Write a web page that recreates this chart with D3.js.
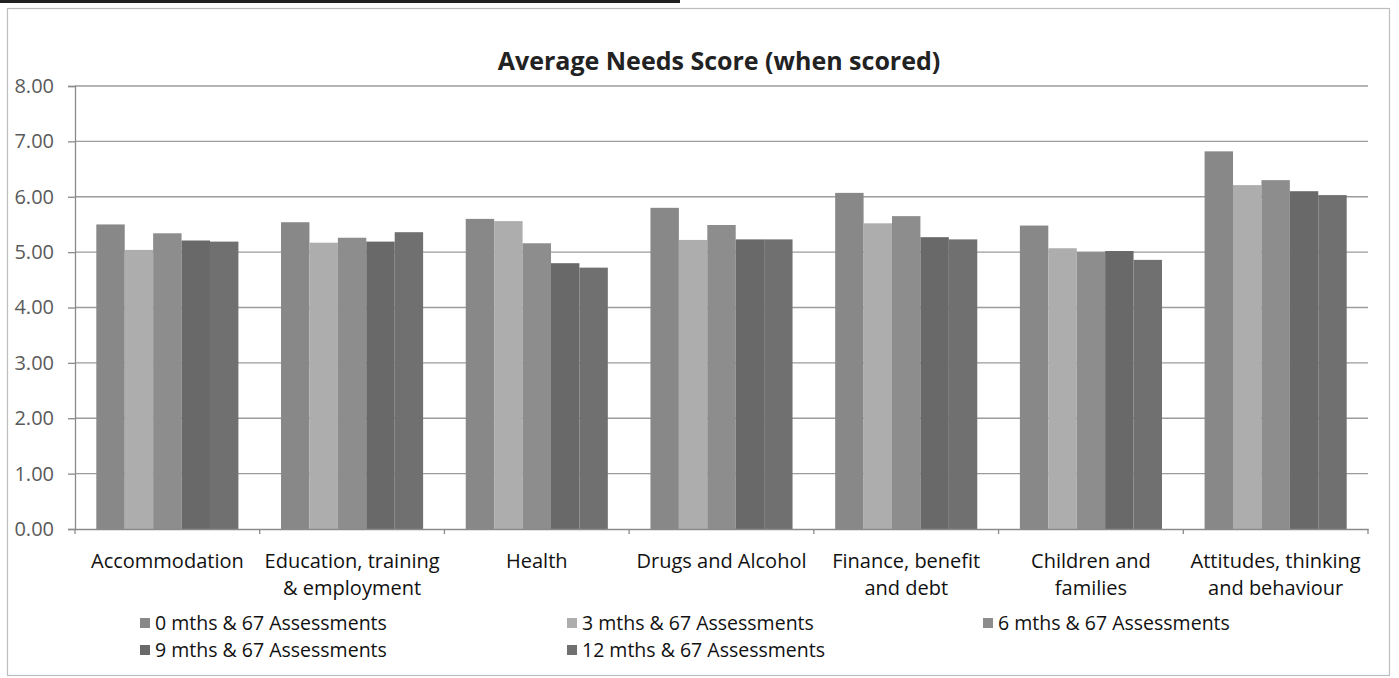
<!DOCTYPE html>
<html>
<head>
<meta charset="utf-8">
<script src="https://cdn.jsdelivr.net/npm/d3@7"></script>
<style>
  body { margin: 0; background: #fff; }
  svg { display: block; font-family: 'Open Sans', 'Noto Sans', sans-serif; }
</style>
</head>
<body>
<svg id="svg" width="1399" height="678"></svg>
<script>
const categories = [
  ['Accommodation'],
  ['Education, training', '& employment'],
  ['Health'],
  ['Drugs and Alcohol'],
  ['Finance, benefit', 'and debt'],
  ['Children and', 'families'],
  ['Attitudes, thinking', 'and behaviour'],
];
const seriesNames = [
  '0 mths & 67 Assessments',
  '3 mths & 67 Assessments',
  '6 mths & 67 Assessments',
  '9 mths & 67 Assessments',
  '12 mths & 67 Assessments',
];
const m0 = [5.50, 5.54, 5.60, 5.80, 6.07, 5.48, 6.82];
const m3 = [5.04, 5.17, 5.56, 5.22, 5.52, 5.07, 6.21];
const m6 = [5.34, 5.26, 5.16, 5.49, 5.65, 5.00, 6.30];
const m9 = [5.21, 5.19, 4.80, 5.23, 5.27, 5.02, 6.10];
const m12 = [5.19, 5.36, 4.72, 5.23, 5.23, 4.86, 6.03];
const yTicks = [0, 1, 2, 3, 4, 5, 6, 7, 8];

const seriesValues = [m0, m3, m6, m9, m12];
const colors = ['#888888', '#adadad', '#8d8d8d', '#696969', '#707070'];
const catKeys = categories.map((c) => c.join(' '));

const svg = d3.select('#svg');

// page furniture: table rule at top and chart frame
svg.append('line').attr('x1', 0).attr('x2', 680).attr('y1', 1.5).attr('y2', 1.5)
  .attr('stroke', '#222').attr('stroke-width', 3);
svg.append('rect').attr('x', 7.5).attr('y', 8.5).attr('width', 1382).attr('height', 667)
  .attr('fill', 'none').attr('stroke', '#bdbdbd').attr('stroke-width', 1.2);

const plotLeft = 75, plotRight = 1368, plotTop = 86, plotBottom = 529;

const y = d3.scaleLinear().domain([0, 8]).range([plotBottom, plotTop]);
const x0 = d3.scaleBand().domain(catKeys).range([plotLeft, plotRight]);
const x1 = d3.scaleBand().domain(d3.range(seriesNames.length))
  .range([0, x0.bandwidth()]).paddingInner(0).paddingOuter(0.75);

// title
svg.append('text')
  .attr('x', 719).attr('y', 70)
  .attr('text-anchor', 'middle')
  .attr('font-size', 25).attr('font-weight', 700).attr('fill', '#222')
  .text('Average Needs Score (when scored)');

// gridlines
svg.append('g')
  .selectAll('line')
  .data(yTicks.filter((d) => d > 0))
  .enter()
  .append('line')
  .attr('x1', plotLeft).attr('x2', plotRight)
  .attr('y1', (d) => y(d)).attr('y2', (d) => y(d))
  .attr('stroke', '#9c9c9c').attr('stroke-width', 1.4);

// y axis
const yAxis = svg.append('g')
  .attr('transform', `translate(${plotLeft},0)`)
  .call(d3.axisLeft(y).tickValues(yTicks).tickFormat(d3.format('.2f')).tickSize(7).tickPadding(14));
yAxis.select('.domain').attr('stroke', '#8a8a8a').attr('stroke-width', 1.3);
yAxis.selectAll('.tick line').attr('stroke', '#8a8a8a').attr('stroke-width', 1.3);
yAxis.selectAll('.tick text').attr('font-size', 20).attr('fill', '#5a5a5a')
  .attr('font-family', "'Open Sans', sans-serif");

// bars
const groups = svg.append('g')
  .selectAll('g')
  .data(catKeys)
  .enter()
  .append('g')
  .attr('transform', (d) => `translate(${x0(d)},0)`);

groups.selectAll('rect')
  .data((d, i) => seriesValues.map((vals, s) => ({ s, v: vals[i] })))
  .enter()
  .append('rect')
  .attr('x', (d) => x1(d.s))
  .attr('width', x1.bandwidth())
  .attr('y', (d) => y(d.v))
  .attr('height', (d) => y(0) - y(d.v))
  .attr('fill', (d) => colors[d.s]);

// x axis
const xAxis = svg.append('g')
  .attr('transform', `translate(0,${plotBottom})`)
  .call(d3.axisBottom(x0).tickSize(0).tickFormat(''));
xAxis.select('.domain').attr('stroke', '#8a8a8a').attr('stroke-width', 1.3);
xAxis.selectAll('.tick').remove();
xAxis.selectAll('line.sep')
  .data(d3.range(catKeys.length + 1))
  .enter()
  .append('line')
  .attr('class', 'sep')
  .attr('x1', (i) => plotLeft + i * x0.step()).attr('x2', (i) => plotLeft + i * x0.step())
  .attr('y1', 0).attr('y2', 5)
  .attr('stroke', '#8a8a8a').attr('stroke-width', 1.3);

// category labels
const labels = svg.append('g')
  .selectAll('text')
  .data(categories)
  .enter()
  .append('text')
  .attr('text-anchor', 'middle')
  .attr('font-size', 20)
  .attr('fill', '#111')
  .attr('transform', (d, i) => `translate(${x0(catKeys[i]) + x0.bandwidth() / 2},568)`);
labels.selectAll('tspan')
  .data((d) => d)
  .enter()
  .append('tspan')
  .attr('x', 0)
  .attr('y', (d, i) => i * 27)
  .text((d) => d);

// legend
const legendPos = [
  { x: 140, y: 623 }, { x: 567, y: 623 }, { x: 983, y: 623 },
  { x: 140, y: 650 }, { x: 567, y: 650 },
];
const legend = svg.append('g')
  .selectAll('g')
  .data(seriesNames)
  .enter()
  .append('g')
  .attr('transform', (d, i) => `translate(${legendPos[i].x},${legendPos[i].y})`);
legend.append('rect')
  .attr('x', 0).attr('y', -5).attr('width', 10).attr('height', 10)
  .attr('fill', (d, i) => colors[i]);
legend.append('text')
  .attr('x', 15).attr('y', 7)
  .attr('font-size', 19.5).attr('fill', '#111')
  .text((d) => d);
</script>
</body>
</html>
